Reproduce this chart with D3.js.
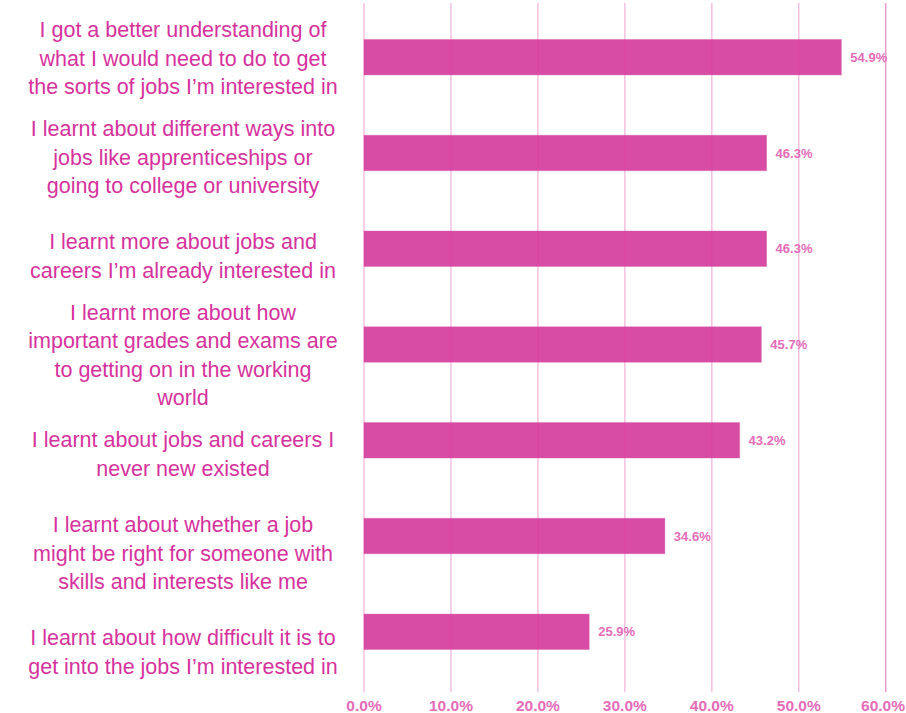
<!DOCTYPE html>
<html>
<head>
<meta charset="utf-8">
<script src="https://cdn.jsdelivr.net/npm/d3@7"></script>
<style>
  body { margin: 0; background: #fff; }
  text { font-family: "Liberation Sans", Arial, Helvetica, sans-serif; }
</style>
</head>
<body>
<script>
// categories (top to bottom), line breaks as in the original
const categories = [
  "I got a better understanding of\nwhat I would need to do to get\nthe sorts of jobs I\u2019m interested in",
  "I learnt about different ways into\njobs like apprenticeships or\ngoing to college or university",
  "I learnt more about jobs and\ncareers I\u2019m already interested in",
  "I learnt more about how\nimportant grades and exams are\nto getting on in the working\nworld",
  "I learnt about jobs and careers I\nnever new existed",
  "I learnt about whether a job\nmight be right for someone with\nskills and interests like me",
  "I learnt about how difficult it is to\nget into the jobs I\u2019m interested in"
];
const values = [54.9, 46.3, 46.3, 45.7, 43.2, 34.6, 25.9];
const ticks = [0, 10, 20, 30, 40, 50, 60];

const width = 906, height = 713;

//svg
const svg = d3.select('body')
  .append('svg')
  .attr('width', width)
  .attr('height', height);

//scales
const x = d3.scaleLinear().domain([0, 60]).range([364, 885.7]);
const y = d3.scaleBand()
  .domain(categories)
  .range([39.5, 649.5])
  .paddingInner(0.63)
  .paddingOuter(0);
//category labels sit on their own point scale
const yLabel = d3.scalePoint().domain(categories).range([58, 652]);

const pct = (v) => d3.format('.1f')(v) + '%';

//bars
svg.append('g')
  .selectAll('rect')
  .data(values)
  .enter()
  .append('rect')
  .attr('x', x(0))
  .attr('y', (d, i) => y(categories[i]))
  .attr('width', (d) => x(d) - x(0))
  .attr('height', y.bandwidth())
  .attr('fill', '#d84ca6')
  .attr('stroke', 'rgba(216,76,166,0.35)')
  .attr('stroke-width', 1);

//gridlines over the bars
svg.append('g')
  .selectAll('line')
  .data(ticks)
  .enter()
  .append('line')
  .attr('x1', (d) => x(d))
  .attr('x2', (d) => x(d))
  .attr('y1', 3)
  .attr('y2', 692)
  .attr('stroke', '#dc3a9c')
  .attr('stroke-opacity', (d, i) => i === ticks.length - 1 ? 0.5 : 0.32)
  .attr('stroke-width', 1.5);

//tick labels, kept inside the right edge
svg.append('g')
  .selectAll('text')
  .data(ticks)
  .enter()
  .append('text')
  .attr('x', (d) => x(d))
  .attr('y', 706)
  .attr('dy', '0.35em')
  .attr('text-anchor', 'middle')
  .attr('font-size', 15.5)
  .attr('font-weight', 'bold')
  .attr('fill', '#e46cb8')
  .text(pct)
  .each(function (d) {
    const w = this.getComputedTextLength();
    if (x(d) + w / 2 > width - 1) d3.select(this).attr('x', width - 1 - w / 2);
  });

//value labels
svg.append('g')
  .selectAll('text')
  .data(values)
  .enter()
  .append('text')
  .attr('x', (d) => x(d) + 9)
  .attr('y', (d, i) => y(categories[i]) + y.bandwidth() / 2)
  .attr('dy', '0.35em')
  .attr('font-size', 13)
  .attr('font-weight', 'bold')
  .attr('fill', '#e46cb8')
  .text(pct);

//category labels, centred in the left column
const lineH = 28.5;
const labels = svg.append('g')
  .selectAll('text')
  .data(categories)
  .enter()
  .append('text')
  .attr('text-anchor', 'middle')
  .attr('font-size', 21.5)
  .attr('fill', '#d6329d');

labels.each(function (d) {
  const lines = d.split('\n');
  const cy = yLabel(d);
  d3.select(this)
    .selectAll('tspan')
    .data(lines)
    .enter()
    .append('tspan')
    .attr('x', 183)
    .attr('y', (l, i) => cy + (i - (lines.length - 1) / 2) * lineH)
    .attr('dy', '0.35em')
    .text((l) => l);
});
</script>
</body>
</html>
